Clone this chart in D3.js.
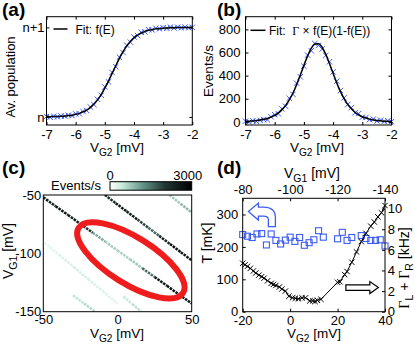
<!DOCTYPE html>
<html>
<head>
<meta charset="utf-8">
<script src="https://cdn.jsdelivr.net/npm/d3@7"></script>
<style>
  body { margin: 0; background: #fff; }
  svg { display: block; }
</style>
</head>
<body>
<svg width="415" height="344"></svg>
<script>
var svg = d3.select("svg");
var FONT = "'Liberation Sans', Arial, Helvetica, sans-serif";
var GAMMA = "'Liberation Serif', 'DejaVu Serif', serif";
var BLUE = "#3d5cf5";
var TICK = 13;

// ---- data ----
// gate voltage grid shared by (a) and (b), mV
var vG2 = [-7, -6.875, -6.75, -6.625, -6.5, -6.375, -6.25, -6.125, -6, -5.875, -5.75,
  -5.625, -5.5, -5.375, -5.25, -5.125, -5, -4.875, -4.75, -4.625, -4.5, -4.375, -4.25,
  -4.125, -4, -3.875, -3.75, -3.625, -3.5, -3.375, -3.25, -3.125, -3, -2.875, -2.75,
  -2.625, -2.5, -2.375, -2.25, -2.125, -2];

// (a) average population (0 = n, 1 = n+1)
var popMeasured = [0.004, -0.003, 0.006, 0.002, 0.010, 0.008, 0.018, 0.015, 0.034, 0.036,
  0.062, 0.072, 0.112, 0.138, 0.198, 0.242, 0.335, 0.392, 0.497, 0.561, 0.668, 0.720,
  0.802, 0.836, 0.893, 0.909, 0.946, 0.951, 0.975, 0.972, 0.991, 0.985, 0.997, 0.990,
  1.003, 0.994, 1.002, 0.996, 1.004, 0.997, 1.001];
var popFit = [0.002, 0.003, 0.004, 0.005, 0.007, 0.010, 0.015, 0.020, 0.029, 0.040, 0.056,
  0.077, 0.105, 0.144, 0.191, 0.250, 0.321, 0.401, 0.486, 0.572, 0.655, 0.729, 0.791,
  0.843, 0.884, 0.915, 0.938, 0.956, 0.968, 0.977, 0.984, 0.989, 0.992, 0.994, 0.996,
  0.997, 0.998, 0.998, 0.999, 0.999, 0.999];

// (b) event rate, events/s
var rateMeasured = [6, 0, 10, 4, 14, 20, 18, 44, 62, 70, 112, 135, 205, 238, 335, 390, 482,
  578, 615, 678, 662, 630, 575, 520, 432, 352, 270, 208, 150, 124, 78, 72, 40, 38, 20, 24,
  8, 15, 4, 9, 2];
var rateFit = [4, 6, 8, 12, 16, 22, 30, 42, 57, 78, 106, 143, 190, 250, 322, 403, 489, 569,
  635, 674, 677, 645, 584, 505, 420, 336, 264, 202, 152, 113, 83, 61, 44, 33, 24, 17, 12,
  9, 6, 5, 3];

// (c) charge transition lines in the (V_G2, V_G1) plane, mV, and counts along them
var transitionEnds = [
  [[-50, -52], [50, -143]],
  [[-8.5, -50], [50, -106]],
  [[35, -50], [50, -65]],
  [[-49, -91], [0, -143]],
  [[-30, -136], [-15, -150]],
  [[4, -137], [16, -150]]
];
var transitionCounts = [
  [2400, 2600, 2500, 2100, 1000, 700, 650, 750, 1500, 2500, 2700, 2600],
  [2200, 2600, 2500, 1900, 1600, 2300, 2700, 2500],
  [700, 900],
  [220, 300, 350, 300, 250],
  [500, 600],
  [450, 550]
];
var colorStops = [0, 450, 1200, 2000, 3000];

// (d) electron temperature and total tunnel rate vs V_G2
var tempV = [-20, -18, -16, -14, -12, -10, -8, -6, -4, -2, 0, 2, 4, 6, 8, 10, 12, 14,
  20, 22, 24, 26, 30, 32, 34, 36, 38, 40];
var tempT = [238, 233, 229, 240, 241, 206, 240, 220, 209, 221, 230, 217, 229, 205, 213, 222,
  250, 230, 225, 245, 220, 229, 235, 226, 220, 220, 222, 203];
var rateV = [-20, -19, -18, -16.8, -15.5, -14.5, -13.2, -12, -11, -9.5, -8, -7, -6, -4.5,
  -3.5, -2, -0.5, 1, 2.2, 3.5, 5, 6.5, 8.3, 9.5, 10.5, 11.5, 13, 20, 21, 23, 24, 26, 28,
  30, 32, 34, 35.5, 37, 38.5, 40];
var rateG = [4.7, 4.55, 4.4, 4.2, 3.95, 3.75, 3.55, 3.4, 3.25, 3.0, 2.75, 2.65, 2.55, 2.4,
  2.2, 2.0, 1.5, 1.35, 1.3, 1.25, 1.35, 1.35, 1.05, 1.05, 1.0, 1.1, 1.2, 2.85, 2.9, 3.6,
  3.9, 4.8, 5.8, 6.8, 7.6, 8.3, 8.7, 9.2, 9.6, 10.3];

// ---- helpers ----
var fmt = function(d) { return String(d); };

function styleAxis(sel, size) {
  sel.attr("font-family", null).attr("font-size", null);
  sel.select(".domain").remove();
  sel.selectAll("line").attr("stroke", "#000");
  sel.selectAll("text").attr("font-family", FONT).attr("font-size", size).attr("fill", "#000");
}

function frame(x, y) {
  var r = x.range(), s = y.range();
  svg.append("rect")
    .attr("x", Math.min(r[0], r[1])).attr("y", Math.min(s[0], s[1]))
    .attr("width", Math.abs(r[1] - r[0])).attr("height", Math.abs(s[0] - s[1]))
    .attr("fill", "none").attr("stroke", "#000").attr("stroke-width", 1);
}

// text made of [string, isSubscript, fontFamily] pieces
function rich(t, parts, size) {
  var shift = 0;
  parts.forEach(function(p) {
    var dy = p[1] ? size * 0.32 : 0;
    t.append("tspan")
      .attr("font-size", p[1] ? size * 0.75 : size)
      .attr("font-family", p[2] || FONT)
      .attr("dy", dy - shift)
      .text(p[0]);
    shift = dy;
  });
  return t;
}

function label(x, y, parts, size, rotate) {
  var t = svg.append("text")
    .attr("text-anchor", "middle")
    .attr("font-family", FONT)
    .attr("transform", "translate(" + x + "," + y + ")" + (rotate ? " rotate(" + rotate + ")" : ""));
  return rich(t, parts, size);
}

function panelTag(x, y, s) {
  svg.append("text").attr("x", x).attr("y", y)
    .attr("font-family", FONT).attr("font-size", 19).attr("font-weight", "bold")
    .text(s);
}

var cross = "M-2.7,-2.7L2.7,2.7M-2.7,2.7L2.7,-2.7";

// ---- (a) ----
var xA = d3.scaleLinear().domain([-7, -2]).range([46.5, 192.3]);
var yA = d3.scaleLinear().domain([-0.09, 1.12]).range([125, 16.7]);

svg.append("g").selectAll("path").data(vG2).enter().append("path")
  .attr("d", cross)
  .attr("transform", function(d, i) { return "translate(" + xA(d) + "," + yA(popMeasured[i]) + ")"; })
  .attr("stroke", BLUE).attr("stroke-width", 1).attr("fill", "none");

svg.append("path").datum(vG2)
  .attr("fill", "none").attr("stroke", "#000").attr("stroke-width", 1.5)
  .attr("d", d3.line().curve(d3.curveMonotoneX)
    .x(function(d) { return xA(d); })
    .y(function(d, i) { return yA(popFit[i]); }));

svg.append("g").attr("transform", "translate(0,125)")
  .call(d3.axisBottom(xA).tickValues([-7, -6, -5, -4, -3, -2]).tickSize(-3).tickPadding(5).tickFormat(fmt))
  .call(styleAxis, TICK);
svg.append("g").attr("transform", "translate(0,16.7)")
  .call(d3.axisTop(xA).tickValues([-7, -6, -5, -4, -3, -2]).tickSize(-3).tickFormat(""))
  .call(styleAxis, TICK);
svg.append("g").attr("transform", "translate(46.5,0)")
  .call(d3.axisLeft(yA).tickValues([0, 1]).tickSize(-3).tickPadding(2)
    .tickFormat(function(d) { return d ? "n+1" : "n"; }))
  .call(styleAxis, TICK);
svg.append("g").attr("transform", "translate(192.3,0)")
  .call(d3.axisRight(yA).tickValues([0, 1]).tickSize(-3).tickFormat(""))
  .call(styleAxis, TICK);
frame(xA, yA);

svg.append("line").attr("x1", 53.5).attr("x2", 67.5).attr("y1", 29).attr("y2", 29)
  .attr("stroke", "#000").attr("stroke-width", 1.5);
svg.append("text").attr("x", 75.5).attr("y", 34).attr("font-family", FONT).attr("font-size", 12)
  .text("Fit: f(E)");

label(15, 77, [["Av. population"]], 13, -90);
label(117, 152, [["V"], ["G2", true], [" [mV]"]], 13.5);
panelTag(2, 16, "(a)");

// ---- (b) ----
var xB = d3.scaleLinear().domain([-7, -2]).range([245.5, 391.5]);
var yB = d3.scaleLinear().domain([-27, 910]).range([125, 16.7]);

svg.append("g").selectAll("path").data(vG2).enter().append("path")
  .attr("d", cross)
  .attr("transform", function(d, i) { return "translate(" + xB(d) + "," + yB(rateMeasured[i]) + ")"; })
  .attr("stroke", BLUE).attr("stroke-width", 1).attr("fill", "none");

svg.append("path").datum(vG2)
  .attr("fill", "none").attr("stroke", "#000").attr("stroke-width", 1.5)
  .attr("d", d3.line().curve(d3.curveMonotoneX)
    .x(function(d) { return xB(d); })
    .y(function(d, i) { return yB(rateFit[i]); }));

svg.append("g").attr("transform", "translate(0,125)")
  .call(d3.axisBottom(xB).tickValues([-7, -6, -5, -4, -3, -2]).tickSize(-3).tickPadding(5).tickFormat(fmt))
  .call(styleAxis, TICK);
svg.append("g").attr("transform", "translate(0,16.7)")
  .call(d3.axisTop(xB).tickValues([-7, -6, -5, -4, -3, -2]).tickSize(-3).tickFormat(""))
  .call(styleAxis, TICK);
svg.append("g").attr("transform", "translate(245.5,0)")
  .call(d3.axisLeft(yB).tickValues([0, 200, 400, 600, 800]).tickSize(-3).tickPadding(5).tickFormat(fmt))
  .call(styleAxis, TICK);
svg.append("g").attr("transform", "translate(391.5,0)")
  .call(d3.axisRight(yB).tickValues([0, 200, 400, 600, 800]).tickSize(-3).tickFormat(""))
  .call(styleAxis, TICK);
frame(xB, yB);

svg.append("line").attr("x1", 250.5).attr("x2", 265.5).attr("y1", 30.3).attr("y2", 30.3)
  .attr("stroke", "#000").attr("stroke-width", 1.5);
rich(svg.append("text").attr("x", 269).attr("y", 34.7).attr("font-family", FONT).attr("xml:space", "preserve"),
  [["Fit:  "], ["Γ", false, GAMMA], [" × f(E)(1-f(E))"]], 12);

label(213, 71, [["Events/s"]], 13.5, -90);
label(317, 152, [["V"], ["G2", true], [" [mV]"]], 13.5);
panelTag(217, 16, "(b)");

// ---- (c) ----
var xC = d3.scaleLinear().domain([-50, 50]).range([43.3, 191.7]);
var yC = d3.scaleLinear().domain([-50, -150]).range([195, 311.7]);
var color = d3.scaleLinear().domain(colorStops)
  .range(["#ffffff", "#c6eadb", "#649488", "#223834", "#000000"]).clamp(true);

svg.append("clipPath").attr("id", "clipC").append("rect")
  .attr("x", 43.3).attr("y", 195).attr("width", 148.4).attr("height", 116.7);
var heat = svg.append("g").attr("clip-path", "url(#clipC)");
transitionEnds.forEach(function(ends, i) {
  var counts = transitionCounts[i], n = counts.length;
  counts.forEach(function(c, k) {
    var t0 = k / n, t1 = (k + 1) / n;
    var a = [ends[0][0] + (ends[1][0] - ends[0][0]) * t0, ends[0][1] + (ends[1][1] - ends[0][1]) * t0];
    var b = [ends[0][0] + (ends[1][0] - ends[0][0]) * t1, ends[0][1] + (ends[1][1] - ends[0][1]) * t1];
    heat.append("line")
      .attr("x1", xC(a[0])).attr("y1", yC(a[1]))
      .attr("x2", xC(b[0])).attr("y2", yC(b[1]))
      .attr("stroke", color(c)).attr("stroke-width", 2.5)
      .attr("stroke-dasharray", "2.6,0.9");
  });
});

// highlighted region
var ell = { v2: 9, v1: -106, rx: 61.5, ry: 23.3, angle: 32 };
svg.append("ellipse")
  .attr("transform", "translate(" + xC(ell.v2) + "," + yC(ell.v1) + ") rotate(" + ell.angle + ")")
  .attr("rx", ell.rx).attr("ry", ell.ry)
  .attr("fill", "none").attr("stroke", "#ee1c1c").attr("stroke-width", 6);

svg.append("g").attr("transform", "translate(0,311.7)")
  .call(d3.axisBottom(xC).tickValues([-50, 0, 50]).tickSize(0).tickPadding(3).tickFormat(fmt))
  .call(styleAxis, TICK);
svg.append("g").attr("transform", "translate(43.3,0)")
  .call(d3.axisLeft(yC).tickValues([-50, -100, -150]).tickSize(0).tickPadding(2).tickFormat(fmt))
  .call(styleAxis, TICK);
frame(xC, yC);

// colour bar
var cb = d3.scaleLinear().domain([0, 3000]).range([110, 191.7]);
var grad = svg.append("defs").append("linearGradient").attr("id", "cbar");
colorStops.forEach(function(v) {
  grad.append("stop").attr("offset", v / 3000).attr("stop-color", color(v));
});
svg.append("rect").attr("x", cb(0)).attr("y", 181.7).attr("width", cb(3000) - cb(0)).attr("height", 8.5)
  .attr("fill", "url(#cbar)").attr("stroke", "#000").attr("stroke-width", 1);
svg.append("text").attr("x", cb(0)).attr("y", 179.5).attr("text-anchor", "middle")
  .attr("font-family", FONT).attr("font-size", TICK).text("0");
svg.append("text").attr("x", cb(3000) - 4).attr("y", 179.5).attr("text-anchor", "middle")
  .attr("font-family", FONT).attr("font-size", TICK).text("3000");
svg.append("text").attr("x", 76).attr("y", 189.5).attr("text-anchor", "middle")
  .attr("font-family", FONT).attr("font-size", 13).text("Events/s");

label(13, 251, [["V"], ["G1", true], [" [mV]"]], 14, -90);
label(117, 337.5, [["V"], ["G2", true], [" [mV]"]], 13.5);
panelTag(2, 174, "(c)");

// ---- (d) ----
var xD = d3.scaleLinear().domain([-20, 40]).range([242.7, 385]);
var xTop = d3.scaleLinear().domain([-80, -140]).range([242.7, 385]);
var yT = d3.scaleLinear().domain([0, 350]).range([311.7, 198.3]);
var yG = d3.scaleLinear().domain([0, 11]).range([311.7, 198.3]);

svg.append("g").selectAll("rect").data(tempV).enter().append("rect")
  .attr("x", function(d) { return xD(d) - 3; })
  .attr("y", function(d, i) { return yT(tempT[i]) - 3; })
  .attr("width", 6).attr("height", 6)
  .attr("fill", "none").attr("stroke", BLUE).attr("stroke-width", 1.1);

svg.append("path").datum(rateV)
  .attr("fill", "none").attr("stroke", "#000").attr("stroke-width", 1)
  .attr("d", d3.line()
    .x(function(d) { return xD(d); })
    .y(function(d, i) { return yG(rateG[i]); }));
svg.append("g").selectAll("path").data(rateV).enter().append("path")
  .attr("d", cross)
  .attr("transform", function(d, i) { return "translate(" + xD(d) + "," + yG(rateG[i]) + ")"; })
  .attr("stroke", "#000").attr("stroke-width", 1).attr("fill", "none");

svg.append("g").attr("transform", "translate(0,311.7)")
  .call(d3.axisBottom(xD).tickValues([-20, 0, 20, 40]).tickSize(-3).tickPadding(4).tickFormat(fmt))
  .call(styleAxis, TICK);
svg.append("g").attr("transform", "translate(0,198.3)")
  .call(d3.axisTop(xTop).tickValues([-80, -100, -120, -140]).tickSize(-3).tickPadding(4).tickFormat(fmt))
  .call(styleAxis, TICK);
svg.append("g").attr("transform", "translate(242.7,0)")
  .call(d3.axisLeft(yT).tickValues([0, 100, 200, 300]).tickSize(-3).tickPadding(4.5).tickFormat(fmt))
  .call(styleAxis, TICK);
svg.append("g").attr("transform", "translate(385,0)")
  .call(d3.axisRight(yG).tickValues([0, 2, 4, 6, 8, 10]).tickSize(-3).tickPadding(2.7).tickFormat(fmt))
  .call(styleAxis, TICK);
frame(xD, yT);

// arrows pointing to each axis
var arrowT = { v: -17.6, t: 309 };
svg.append("path")
  .attr("transform", "translate(" + xD(arrowT.v) + "," + yT(arrowT.t) + ")")
  .attr("d", "M0,0L10,-8.5L10,-4.5L15,-4.5Q27,-4.5 27,6L27,15L20,15L20,8Q20,4.5 15,4.5L10,4.5L10,8.5Z")
  .attr("fill", "#fff").attr("stroke", BLUE).attr("stroke-width", 1.3);
var arrowG = { v: 37.2, g: 2.34 };
svg.append("path")
  .attr("transform", "translate(" + xD(arrowG.v) + "," + yG(arrowG.g) + ")")
  .attr("d", "M0,0L-8.5,-6L-8.5,-2.8L-32.5,-2.8L-32.5,2.8L-8.5,2.8L-8.5,6Z")
  .attr("fill", "#fff").attr("stroke", "#000").attr("stroke-width", 1.2);

label(212, 243, [["T [mK]"]], 14, -90);
label(409, 268, [["Γ", false, GAMMA], ["L", true], [" + "], ["Γ", false, GAMMA], ["R", true], [" [kHz]"]], 14, -90);
label(314, 337.5, [["V"], ["G2", true], [" [mV]"]], 13.5);
label(312, 178, [["V"], ["G1", true], [" [mV]"]], 14);
panelTag(217, 174, "(d)");
</script>
</body>
</html>
